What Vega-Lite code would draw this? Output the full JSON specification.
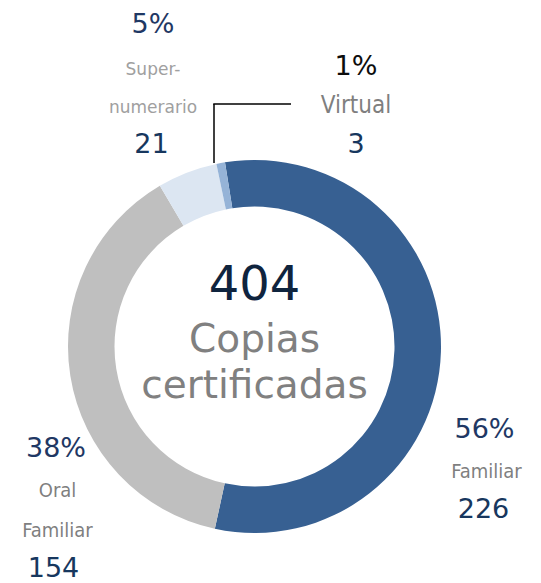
{
  "$schema": "https://vega.github.io/schema/vega-lite/v6.json",
  "width": 509,
  "height": 473,
  "autosize": {"type": "none"},
  "padding": {"left": 0, "top": 110, "right": 32, "bottom": 0},
  "config": {"view": {"stroke": null}, "font": "DejaVu Sans", "text": {"font": "DejaVu Sans", "align": "center", "baseline": "alphabetic"}},
  "data": {
    "values": [
      {"orden": 1, "categoria": "Familiar", "etiqueta": "Familiar", "copias": 226, "porcentaje": 0.56},
      {"orden": 2, "categoria": "Oral Familiar", "etiqueta": "Oral\nFamiliar", "copias": 154, "porcentaje": 0.38},
      {"orden": 3, "categoria": "Supernumerario", "etiqueta": "Super-\nnumerario", "copias": 21, "porcentaje": 0.05},
      {"orden": 4, "categoria": "Virtual", "etiqueta": "Virtual", "copias": 3, "porcentaje": 0.01}
    ]
  },
  "layer": [
    {
      "mark": {"type": "arc", "innerRadius": 140, "outerRadius": 186.5},
      "encoding": {
        "theta": {"field": "copias", "type": "quantitative", "stack": true, "scale": {"range": [-0.159, 6.1242]}},
        "order": {"field": "orden", "type": "quantitative"},
        "color": {"field": "categoria", "type": "nominal", "legend": null,
          "scale": {"domain": ["Familiar", "Oral Familiar", "Supernumerario", "Virtual"], "range": ["#376092", "#BFBFBF", "#DCE6F2", "#95B3D7"]}}
      }
    },
    {
      "transform": [{"aggregate": [{"op": "sum", "field": "copias", "as": "total"}]}],
      "layer": [
        {"mark": {"type": "text", "dy": -46.5, "fontSize": 48, "color": "#0F243E"}, "encoding": {"text": {"field": "total", "type": "quantitative"}}},
        {"mark": {"type": "text", "text": "Copias\ncertificadas", "lineBreak": "\n", "lineHeight": 46, "dy": 5.5, "fontSize": 39, "color": "#808080"}, "encoding": {}}
      ]
    },
    {
      "transform": [{"filter": "datum.categoria === 'Familiar'"}],
      "layer": [
        {"mark": {"type": "text", "dx": 230, "dy": 91.5, "fontSize": 27, "color": "#1F3864"}, "encoding": {"text": {"field": "porcentaje", "type": "quantitative", "format": ".0%"}}},
        {"mark": {"type": "text", "dx": 232, "dy": 131.5, "fontSize": 20, "font": "DejaVu Sans Condensed", "color": "#7F7F7F", "lineBreak": "\n"}, "encoding": {"text": {"field": "etiqueta"}}},
        {"mark": {"type": "text", "dx": 229, "dy": 171.5, "fontSize": 27, "color": "#17375E"}, "encoding": {"text": {"field": "copias", "type": "quantitative"}}}
      ]
    },
    {
      "transform": [{"filter": "datum.categoria === 'Oral Familiar'"}],
      "layer": [
        {"mark": {"type": "text", "dx": -198.5, "dy": 110.5, "fontSize": 27, "color": "#1F3864"}, "encoding": {"text": {"field": "porcentaje", "type": "quantitative", "format": ".0%"}}},
        {"mark": {"type": "text", "dx": -197, "dy": 150.5, "fontSize": 20, "font": "DejaVu Sans Condensed", "color": "#7F7F7F", "lineBreak": "\n", "lineHeight": 40}, "encoding": {"text": {"field": "etiqueta"}}},
        {"mark": {"type": "text", "dx": -201, "dy": 230.5, "fontSize": 27, "color": "#17375E"}, "encoding": {"text": {"field": "copias", "type": "quantitative"}}}
      ]
    },
    {
      "transform": [{"filter": "datum.categoria === 'Supernumerario'"}],
      "layer": [
        {"mark": {"type": "text", "dx": -101.5, "dy": -313.5, "fontSize": 27, "color": "#1F3864"}, "encoding": {"text": {"field": "porcentaje", "type": "quantitative", "format": ".0%"}}},
        {"mark": {"type": "text", "dx": -101.5, "dy": -271.5, "fontSize": 17, "color": "#A0A0A0", "lineBreak": "\n", "lineHeight": 38}, "encoding": {"text": {"field": "etiqueta"}}},
        {"mark": {"type": "text", "dx": -103, "dy": -193.5, "fontSize": 27, "color": "#17375E"}, "encoding": {"text": {"field": "copias", "type": "quantitative"}}}
      ]
    },
    {
      "transform": [{"filter": "datum.categoria === 'Virtual'"}],
      "layer": [
        {"mark": {"type": "rule", "color": "#000000", "strokeWidth": 1.5}, "encoding": {"x": {"value": 214}, "y": {"value": 53}, "y2": {"value": -6}}},
        {"mark": {"type": "rule", "color": "#000000", "strokeWidth": 1.5}, "encoding": {"x": {"value": 213.25}, "x2": {"value": 291}, "y": {"value": -6}}},
        {"mark": {"type": "text", "dx": 101.5, "dy": -271.5, "fontSize": 27, "color": "#0D0D0D"}, "encoding": {"text": {"field": "porcentaje", "type": "quantitative", "format": ".0%"}}},
        {"mark": {"type": "text", "dx": 101.5, "dy": -233.5, "fontSize": 24, "font": "DejaVu Sans Condensed", "color": "#7F7F7F"}, "encoding": {"text": {"field": "etiqueta"}}},
        {"mark": {"type": "text", "dx": 101.5, "dy": -193.5, "fontSize": 27, "color": "#17375E"}, "encoding": {"text": {"field": "copias", "type": "quantitative"}}}
      ]
    }
  ]
}
